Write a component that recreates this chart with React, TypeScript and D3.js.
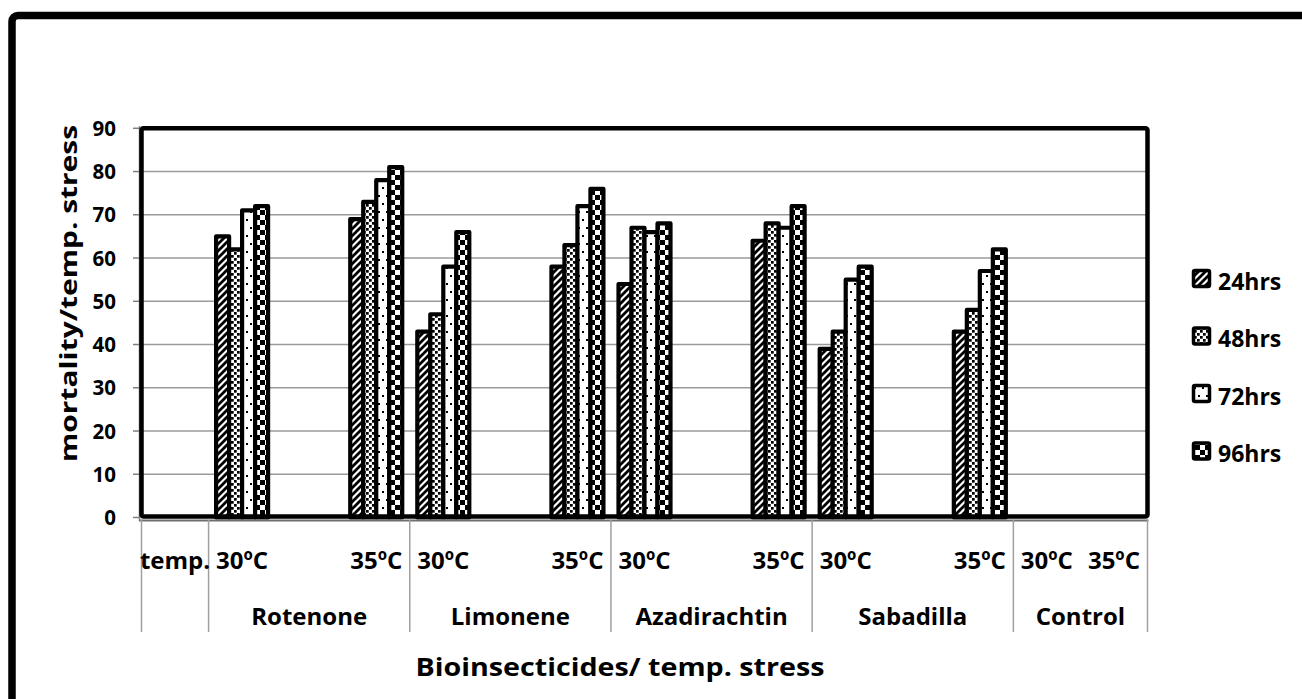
import React from "react";
import * as d3 from "d3";

// Mortality (%) under temperature stress, per exposure time
const seriesNames = ["24hrs", "48hrs", "72hrs", "96hrs"];
// order: Rotenone 30/35, Limonene 30/35, Azadirachtin 30/35, Sabadilla 30/35, Control 30/35
const hrs24 = [65, 69, 43, 58, 54, 64, 39, 43, null, null];
const hrs48 = [62, 73, 47, 63, 67, 68, 43, 48, null, null];
const hrs72 = [71, 78, 58, 72, 66, 67, 55, 57, null, null];
const hrs96 = [72, 81, 66, 76, 68, 72, 58, 62, null, null];
const seriesValues = [hrs24, hrs48, hrs72, hrs96];

// first-level category labels (one per slot on the x axis)
const tempLabels = [
  "temp.",
  "30ºC", "", "35ºC",
  "30ºC", "", "35ºC",
  "30ºC", "", "35ºC",
  "30ºC", "", "35ºC",
  "30ºC", "35ºC",
];
// second-level group labels and how many slots each spans
const groupNames = ["", "Rotenone", "Limonene", "Azadirachtin", "Sabadilla", "Control"];
const groupSpans = [1, 3, 3, 3, 3, 2];

const yTicks = [0, 10, 20, 30, 40, 50, 60, 70, 80, 90];

const FONT = "'Open Sans', 'Liberation Sans', sans-serif";
const patternIds = ["pat24", "pat48", "pat72", "pat96"];

export default function App() {
  const left = 141.5, right = 1147.5, top = 128.3, bottom = 517.5;

  const slotIdx = d3.range(tempLabels.length);
  const x0 = d3.scaleBand<number>().domain(slotIdx).range([left, right]).padding(0);
  const x1 = d3
    .scaleBand<number>()
    .domain(d3.range(seriesNames.length))
    .range([0, x0.bandwidth()])
    .paddingInner(0)
    .paddingOuter(0.58);
  const y = d3.scaleLinear().domain([0, 90]).range([bottom, top]);

  // slots that carry a bar cluster (temperatures, not the header or spacers)
  const dataSlots = slotIdx.filter((i) => tempLabels[i] !== "" && tempLabels[i] !== "temp.");

  // group boundaries
  const bounds: number[] = [0];
  groupSpans.forEach((s) => bounds.push(bounds[bounds.length - 1] + s));
  const edgeX = (k: number) => (k >= tempLabels.length ? right : x0(k)!);

  const sepTop = 520, sepBottom = 632;

  return (
    <svg
      width={1302}
      height={699}
      style={{ position: "absolute", left: 0, top: 0, display: "block", background: "#fff" }}
    >
      <defs>
        <pattern id="pat24" patternUnits="userSpaceOnUse" width={7} height={7}>
          <rect width={7} height={7} fill="#fff" />
          <path d="M-1,8 L8,-1 M-1,1 L1,-1 M6,8 L8,6" stroke="#000" strokeWidth={2.8} />
        </pattern>
        <pattern id="pat48" patternUnits="userSpaceOnUse" width={6} height={6}>
          <rect width={6} height={6} fill="#fff" />
          <rect x={0} y={0} width={2.7} height={2.7} fill="#000" />
          <rect x={3} y={3} width={2.7} height={2.7} fill="#000" />
        </pattern>
        <pattern id="pat72" patternUnits="userSpaceOnUse" width={8} height={16}>
          <rect width={8} height={16} fill="#fff" />
          <rect x={2} y={3} width={2} height={2} fill="#000" />
          <rect x={6} y={11} width={2} height={2} fill="#000" />
        </pattern>
        <pattern id="pat96" patternUnits="userSpaceOnUse" width={10} height={10}>
          <rect width={10} height={10} fill="#fff" />
          <rect x={0} y={0} width={5} height={5} fill="#000" />
          <rect x={5} y={5} width={5} height={5} fill="#000" />
        </pattern>
      </defs>

      {/* outer chart frame */}
      <rect x={12} y={15.5} width={1400} height={800} rx={6} fill="none" stroke="#000" strokeWidth={7.5} />

      {/* gridlines */}
      {yTicks
        .filter((t) => t > 0 && t < 90)
        .map((t) => (
          <line key={t} x1={left} x2={right} y1={y(t)} y2={y(t)} stroke="#9a9a9a" strokeWidth={1.6} />
        ))}

      {/* y axis ticks and labels */}
      <line x1={139.5} x2={139.5} y1={126} y2={521} stroke="#7f7f7f" strokeWidth={1.5} />
      {yTicks.map((t) => (
        <g key={t}>
          <line x1={133} x2={140} y1={y(t)} y2={y(t)} stroke="#7f7f7f" strokeWidth={1.5} />
          <text
            x={116}
            y={y(t) + 7.5}
            textAnchor="end"
            fontFamily={FONT}
            fontWeight={700}
            fontSize={20.5}
            fill="#000"
          >
            {t}
          </text>
        </g>
      ))}

      {/* bars */}
      {dataSlots.map((slot, ci) =>
        seriesValues.map((vals, si) => {
          const v = vals[ci];
          if (v == null) return null;
          return (
            <rect
              key={`${slot}-${si}`}
              x={x0(slot)! + x1(si)!}
              y={y(v)}
              width={x1.bandwidth()}
              height={y(0) - y(v)}
              fill={`url(#${patternIds[si]})`}
              stroke="#000"
              strokeWidth={4.2}
              strokeLinejoin="round"
            />
          );
        })
      )}

      {/* plot area border */}
      <rect
        x={left}
        y={top}
        width={right - left}
        height={bottom - 1 - top}
        rx={2}
        fill="none"
        stroke="#000"
        strokeWidth={4.5}
      />

      {/* x axis line */}
      <line x1={139} x2={right + 1} y1={520.5} y2={520.5} stroke="#6f6f6f" strokeWidth={2} />

      {/* category separators */}
      {bounds.map((b, i) => (
        <line
          key={`sep-${i}`}
          x1={edgeX(b)}
          x2={edgeX(b)}
          y1={sepTop}
          y2={sepBottom}
          stroke="#a0a0a0"
          strokeWidth={1.5}
        />
      ))}

      {/* first-level labels */}
      {tempLabels.map((lab, i) =>
        lab ? (
          <text
            key={`t-${i}`}
            x={x0(i)! + x0.bandwidth() / 2}
            y={569}
            textAnchor="middle"
            fontFamily={FONT}
            fontWeight={700}
            fontSize={24}
            fill="#000"
          >
            {lab}
          </text>
        ) : null
      )}

      {/* second-level group labels */}
      {groupNames.map((g, i) =>
        g ? (
          <text
            key={`g-${i}`}
            x={(edgeX(bounds[i]) + edgeX(bounds[i + 1])) / 2}
            y={625}
            textAnchor="middle"
            fontFamily={FONT}
            fontWeight={700}
            fontSize={24}
            fill="#000"
          >
            {g}
          </text>
        ) : null
      )}

      {/* axis titles */}
      <text
        x={620}
        y={676}
        textAnchor="middle"
        fontFamily={FONT}
        fontWeight={700}
        fontSize={25}
        textLength={409}
        lengthAdjust="spacingAndGlyphs"
        fill="#000"
      >
        Bioinsecticides/ temp. stress
      </text>
      <text
        transform="translate(76.5,293.5) rotate(-90)"
        textAnchor="middle"
        fontFamily={FONT}
        fontWeight={700}
        fontSize={24}
        textLength={337}
        lengthAdjust="spacingAndGlyphs"
        fill="#000"
      >
        mortality/temp. stress
      </text>

      {/* legend */}
      {seriesNames.map((s, i) => {
        const cy = 279 + i * 57.5;
        return (
          <g key={s}>
            <rect
              x={1193.5}
              y={cy - 8.5}
              width={16}
              height={16}
              rx={1.5}
              fill={`url(#${patternIds[i]})`}
              stroke="#000"
              strokeWidth={3.5}
            />
            <text x={1218} y={cy + 10.5} fontFamily={FONT} fontWeight={700} fontSize={23} fill="#000">
              {s}
            </text>
          </g>
        );
      })}
    </svg>
  );
}
